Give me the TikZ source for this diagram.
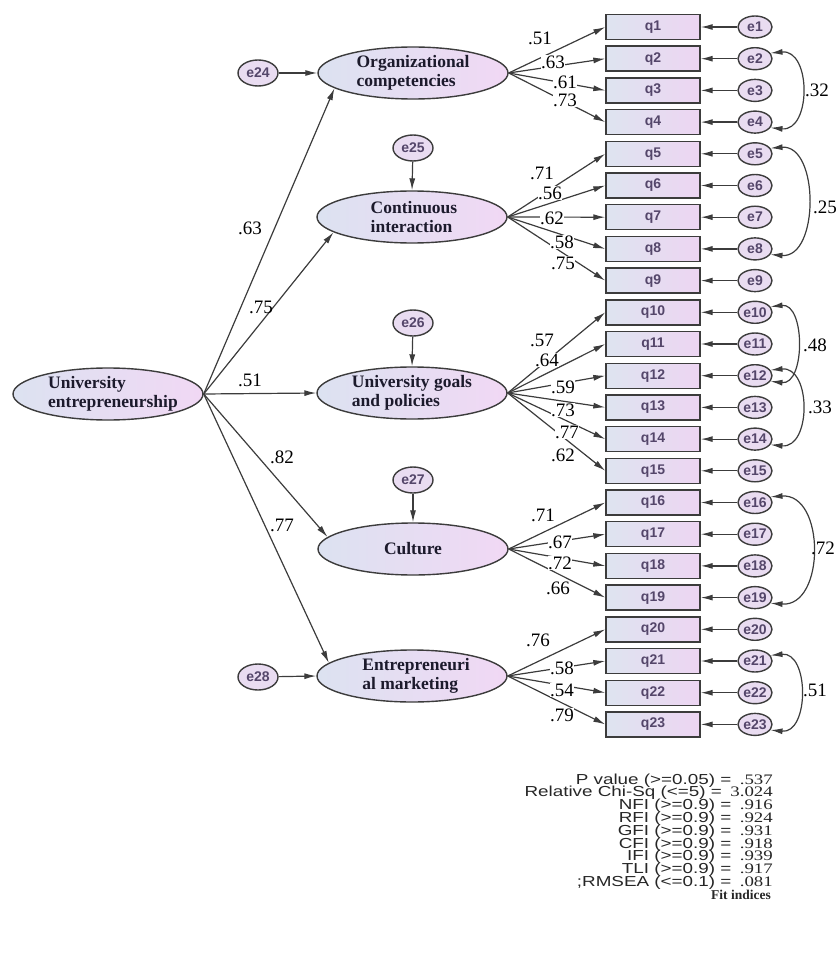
\documentclass[tikz,border=0pt]{standalone}
\usepackage{fontspec}
\setmainfont{Liberation Serif}
\setsansfont{Liberation Sans}
\usetikzlibrary{shapes.geometric,arrows.meta}
\definecolor{linecol}{HTML}{3C3C3C}
\definecolor{latL}{HTML}{DCE2F1}
\definecolor{latR}{HTML}{F1D8F4}
\definecolor{boxL}{HTML}{DEE4F0}
\definecolor{boxR}{HTML}{EDD5F2}
\definecolor{errFill}{HTML}{E9DCF1}
\definecolor{latText}{HTML}{1C1A2C}
\definecolor{obsText}{HTML}{54466A}
\begin{document}
\begin{tikzpicture}[x=1pt,y=-1pt,
  lat/.style={ellipse,draw=linecol,line width=1.4pt,minimum width=190pt,minimum height=52pt,inner sep=0pt,left color=latL,right color=latR},
  lattext/.style={font=\fontsize{17.5}{19}\selectfont\bfseries,align=left,text=latText,inner sep=0pt},
  obs/.style={rectangle,draw=linecol,line width=1.4pt,minimum width=94pt,minimum height=25pt,inner sep=0pt,left color=boxL,right color=boxR,font=\sffamily\bfseries\fontsize{14}{14}\selectfont,text=obsText},
  err/.style={ellipse,draw=linecol,line width=1.4pt,minimum width=34pt,minimum height=22pt,inner sep=0pt,fill=errFill,font=\sffamily\bfseries\fontsize{14}{14}\selectfont,text=obsText},
  errb/.style={err,minimum width=40pt,minimum height=26pt},
  arr/.style={-{Latex[length=12pt,width=6pt]},line width=1.2pt,draw=linecol},
  cov/.style={{Latex[length=12pt,width=6pt]}-{Latex[length=12pt,width=6pt]},line width=1.2pt,draw=linecol},
  coef/.style={font=\fontsize{19}{19}\selectfont,inner sep=0.6pt,fill=white,text=black},
  coefn/.style={font=\fontsize{19}{19}\selectfont,inner sep=0pt,text=black},
  fitline/.style={anchor=base east,inner sep=0pt,text=black!85}
]
\useasboundingbox (0,0) rectangle (837,960);

% observed variables and their errors
\foreach \i in {1,...,23} {
  \pgfmathsetmacro\yy{27+31.7*(\i-1)}
  \node[obs] (q\i) at (653,\yy) {q\i};
  \node[err] (e\i) at (755,\yy) {\makebox[0pt]{e\i}};
  \draw[arr] (e\i) -- (q\i);
}

% latent variables
\node[lat] (ue) at (108,394) {};
\node[lattext] (ueT) at (113,394) {University\\entrepreneurship};
\node[lat] (oc) at (413,73) {};
\node[lattext] (ocT) at (413,73) {Organizational\\competencies};
\node[lat] (ct) at (412,217) {};
\node[lattext] (ctT) at (414,217) {Continuous\\interaction};
\node[lat] (gp) at (412,393) {};
\node[lattext] (gpT) at (412,393) {University goals\\and policies};
\node[lat] (cu) at (413,549) {};
\node[lattext] (cuT) at (413,549) {Culture};
\node[lat] (em) at (412,676) {};
\node[lattext] (emT) at (416,676) {Entrepreneuri\\al marketing};

% disturbances
\node[errb] (e24) at (258,73) {e24};
\node[errb] (e25) at (413,148) {e25};
\node[errb] (e26) at (413,323) {e26};
\node[errb] (e27) at (413,480) {e27};
\node[errb] (e28) at (258,677) {e28};
\draw[arr] (e24) -- (oc.west);
\draw[arr] (e25) -- (ct.north);
\draw[arr] (e26) -- (gp.north);
\draw[arr] (e27) -- (cu.north);
\draw[arr] (e28) -- (em.west);

% structural paths
\draw[arr] (ue.east) -- (oc.191);
\draw[arr] (ue.east) -- (ct.191);
\draw[arr] (ue.east) -- (gp.west);
\draw[arr] (ue.east) -- (cu.172);
\draw[arr] (ue.east) -- (em.171);
\node[coefn] (s1) at (250,228) {.63};
\node[coefn] (s2) at (261,307) {.75};
\node[coefn] (s3) at (250,380) {.51};
\node[coefn] (s4) at (282,457) {.82};
\node[coefn] (s5) at (282,525) {.77};

% measurement paths
\foreach \i in {1,...,4} \draw[arr] (oc.east) -- (q\i.west);
\foreach \i in {5,...,9} \draw[arr] (ct.east) -- (q\i.west);
\foreach \i in {10,...,15} \draw[arr] (gp.east) -- (q\i.west);
\foreach \i in {16,...,19} \draw[arr] (cu.east) -- (q\i.west);
\foreach \i in {20,...,23} \draw[arr] (em.east) -- (q\i.west);

\foreach \i/\v/\lx/\ly in {1/.51/540/38,2/.63/553/62,3/.61/565/82,4/.73/565/100,
  5/.71/542/173,6/.56/550/193,7/.62/552/218,8/.58/562/242,9/.75/563/263,
  10/.57/542/340,11/.64/547/360,12/.59/563/387,13/.73/563/410,14/.77/567/432,15/.62/563/455,
  16/.71/543/515,17/.67/560/542,18/.72/560/563,19/.66/558/588,
  20/.76/538/640,21/.58/562/668,22/.54/562/690,23/.79/562/715}
  \node[coef] (m\i) at (\lx,\ly) {\v};

% error covariances
\foreach \a/\b/\dx/\v/\lx/\ly in {2/4/41/.32/817/90,5/8/49/.25/825/207,10/12/35/.48/815/345,
  12/14/41/.33/820/407,16/19/55/.72/823/548,21/23/39/.51/815/690} {
  \draw[cov] (e\a.20) .. controls +(\dx,-4) and +(\dx,4) .. (e\b.-20);
  \node[coefn] (k\a) at (\lx,\ly) {\v};
}

% fit indices
\foreach \n/\lab/\val in {1/P value (>=0.05) = /.537,2/Relative Chi-Sq (<=5) = /3.024,
  3/NFI (>=0.9) = /.916,4/RFI (>=0.9) = /.924,5/GFI (>=0.9) = /.931,6/CFI (>=0.9) = /.918,
  7/IFI (>=0.9) = /.939,8/TLI (>=0.9) = /.917,9/;RMSEA (<=0.1) = /.081} {
  \pgfmathsetmacro\by{784+12.8*(\n-1)}
  \node[fitline] (f\n) at (773,\by) {\scalebox{1.3}[1]{\fontsize{14.5}{14.5}\selectfont{\sffamily\lab}\,\val}};
}
\node[fitline] (f10) at (771,899) {\fontsize{13.5}{13.5}\selectfont\bfseries Fit indices};
\end{tikzpicture}
\end{document}
